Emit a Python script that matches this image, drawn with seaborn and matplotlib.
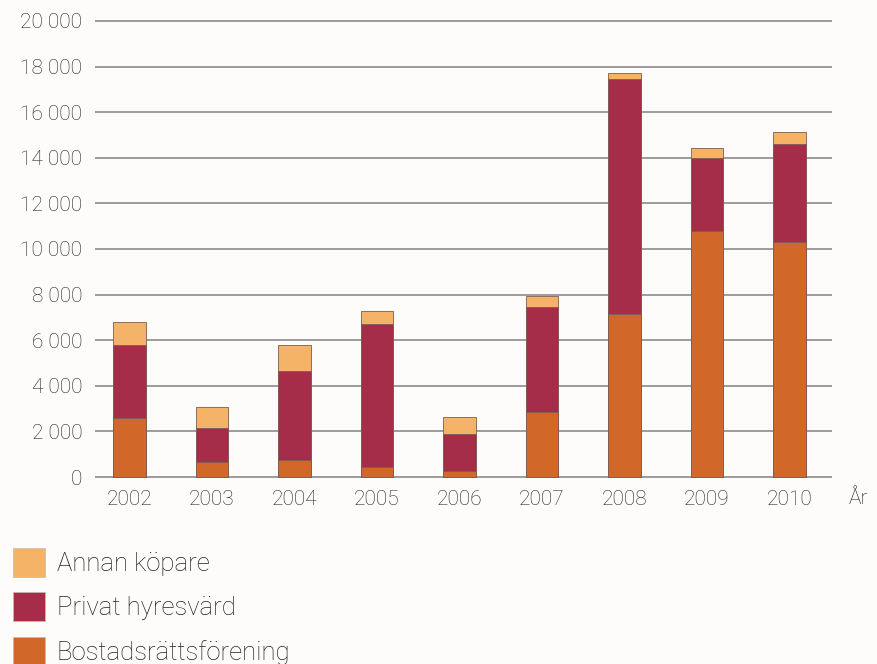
import matplotlib
matplotlib.use("Agg")
import matplotlib.pyplot as plt
import matplotlib.patches as mpatches
import seaborn as sns
import numpy as np
import pandas as pd

years = ["2002", "2003", "2004", "2005", "2006", "2007", "2008", "2009", "2010"]
bostadsratt = [2600, 650, 750, 450, 280, 2850, 7150, 10800, 10300]
privat = [3200, 1520, 3920, 6280, 1600, 4620, 10300, 3200, 4300]
annan = [1000, 880, 1110, 530, 750, 470, 250, 440, 550]

labels = ["Bostadsrättsförening", "Privat hyresvärd", "Annan köpare"]
colors = ["#D2672A", "#A52D4A", "#F4B366"]

sns.set_theme(style="white")
plt.rcParams["font.family"] = ["Roboto", "DejaVu Sans"]
plt.rcParams["font.weight"] = "light"

df = pd.DataFrame({"year": years, "b": bostadsratt, "p": privat, "a": annan})
df["c1"] = df["b"]
df["c2"] = df["b"] + df["p"]
df["c3"] = df["c2"] + df["a"]

fig = plt.figure(figsize=(8.78, 6.64), dpi=100, facecolor="#FDFCFA")
ax = fig.add_axes([0.108, 0.2795, 0.84, 0.691])
ax.set_facecolor("#FDFCFA")

for col, c in zip(["c3", "c2", "c1"], colors[::-1]):
	sns.barplot(data=df, x="year", y=col, color=c, width=0.39, ax=ax,
		edgecolor="#7d5d55", linewidth=0.6, saturation=1, zorder=3)

ax.set_ylim(-60, 20060)
ax.set_xlim(-0.42, 8.52)
ax.set_yticks(range(0, 20001, 2000))
ax.set_yticklabels([f"{v:,}".replace(",", " ") for v in range(0, 20001, 2000)])
ax.yaxis.grid(True, color="#8c8c8c", linewidth=1.2, zorder=0)
ax.set_axisbelow(True)
for s in ax.spines.values():
	s.set_visible(False)
ax.tick_params(axis="both", length=0, labelsize=15, colors="#222222")
ax.tick_params(axis="y", pad=9)
ax.tick_params(axis="x", pad=8)
ax.set_xlabel("")
ax.set_ylabel("")

fig.text(858 / 878, 1 - 499 / 664, "År", fontsize=15, color="#222222",
	ha="center", va="center")

handles = [mpatches.Patch(facecolor=c, edgecolor="#c8b8a8", linewidth=0.5, label=l)
	for c, l in zip(colors[::-1], labels[::-1])]
fig.legend(handles=handles, loc="upper left", bbox_to_anchor=(13 / 878, 1 - 548 / 664),
	frameon=False, fontsize=18.5, handlelength=1.245, handleheight=1.35,
	labelspacing=0.6, handletextpad=0.45, borderpad=0, borderaxespad=0,
	labelcolor="#222222")

fig.savefig("out.png", dpi=100, facecolor=fig.get_facecolor())
